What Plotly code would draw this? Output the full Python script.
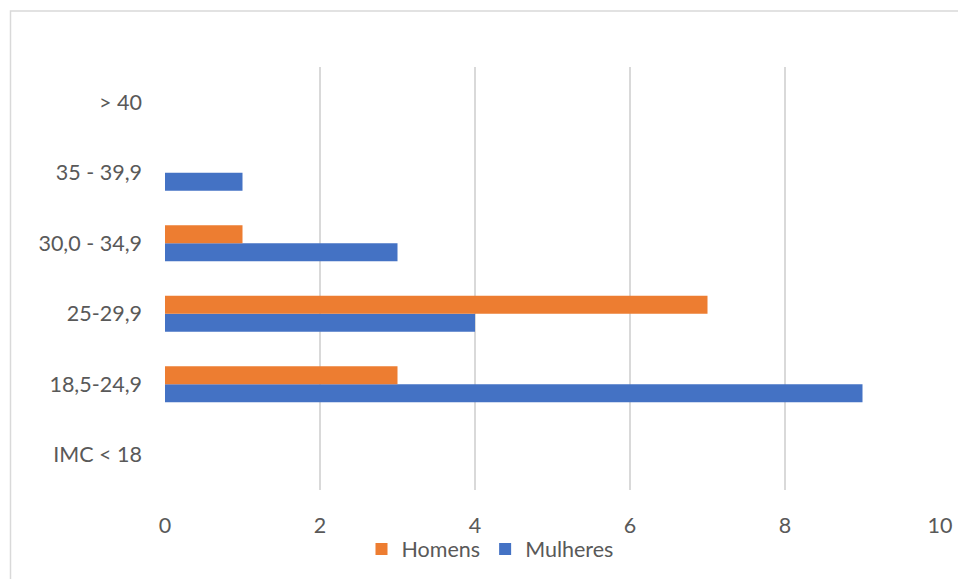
import plotly.graph_objects as go

categories = ["IMC < 18", "18,5-24,9", "25-29,9", "30,0 - 34,9", "35 - 39,9", "> 40"]
mulheres = [0, 9, 4, 3, 1, 0]
homens = [0, 3, 7, 1, 0, 0]
x_ticks = [0, 2, 4, 6, 8, 10]

L, R, T, B = 165, 18, 67, 89
W, H = 958, 579
pw, ph = W - L - R, H - T - B

fig = go.Figure()
fig.add_trace(go.Bar(y=categories, x=mulheres, name="Mulheres", orientation="h",
                     marker=dict(color="#4472C4", line=dict(width=0)), legendrank=2))
fig.add_trace(go.Bar(y=categories, x=homens, name="Homens", orientation="h",
                     marker=dict(color="#ED7D31", line=dict(width=0)), legendrank=1))

font = dict(family="Lato, Carlito, Calibri, sans-serif", size=21.5, color="#595959")

fig.update_layout(
    width=W, height=H,
    margin=dict(l=L, r=R, t=T, b=B, autoexpand=False),
    paper_bgcolor="white", plot_bgcolor="white",
    barmode="group", bargap=0.49, bargroupgap=0,
    font=font,
    showlegend=True,
    legend=dict(orientation="h", xref="container", yref="container",
                x=490 / W, xanchor="center",
                y=1 - 549 / H, yanchor="middle",
                bgcolor="rgba(0,0,0,0)",
                font=font, itemwidth=30, tracegroupgap=0),
    xaxis=dict(range=[0, 10], tickvals=x_ticks, showgrid=True, gridcolor="#D9D9D9",
               gridwidth=1.5, zeroline=False, showline=False, ticks="",
               ticklabelstandoff=20, fixedrange=True, automargin=False),
    yaxis=dict(type="category", categoryorder="array", categoryarray=categories,
               showgrid=False, zeroline=False, showline=False, ticks="",
               ticklabelstandoff=22, automargin=False),
    shapes=[dict(type="rect", xref="paper", yref="paper",
                 x0=(10.5 - L) / pw, x1=(962 - L) / pw,
                 y0=(H - B - 584) / ph, y1=(H - B - 11) / ph,
                 line=dict(color="#D9D9D9", width=1.5), fillcolor="rgba(0,0,0,0)",
                 layer="below")],
)

fig.write_html("out.html")
